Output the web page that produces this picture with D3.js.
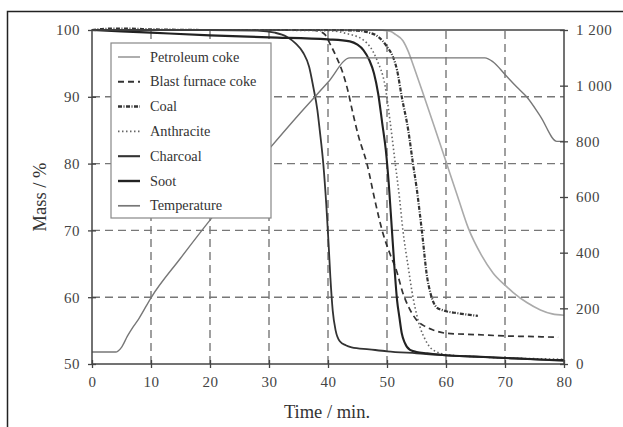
<!DOCTYPE html>
<html>
<head>
<meta charset="utf-8">
<script src="https://cdn.jsdelivr.net/npm/d3@7"></script>
<style>
  body { margin: 0; background: #fff; }
  svg { font-family: "Liberation Serif", "DejaVu Serif", serif; }
</style>
</head>
<body>
<div id="vis"></div>
<script>
// mass curves (time in min, mass in %)
const petrolT = [0, 20, 40, 48, 50.5, 51.5, 52.7, 53.6, 54.5, 56, 58, 60, 62, 63.8, 66, 68, 70, 71.4, 73.7, 76, 78, 80];
const petrolM = [100, 100, 100, 100, 99.8, 99.3, 98.4, 96.8, 94.6, 90.8, 85.6, 80.3, 75, 70.3, 66.3, 63.6, 61.8, 60.7, 59.2, 58.1, 57.5, 57.3];

const blastT = [0, 20, 37, 38.5, 39.5, 40.3, 41.4, 42.5, 43.4, 44.2, 45.2, 46.6, 48, 49.3, 50.5, 51.6, 52.7, 53.8, 55, 56.5, 57.8, 60, 65, 70, 75, 79];
const blastM = [100, 100, 100, 99.8, 99.3, 98, 96, 93.6, 90.8, 87.6, 84, 80, 74.3, 69.6, 66.5, 64, 60.6, 58.3, 56.6, 55.6, 55.1, 54.6, 54.4, 54.2, 54.1, 54.0];

const coalT = [0, 3, 6, 10, 20, 30, 40, 45, 47, 48.5, 50, 51, 51.7, 52.5, 53.6, 54.4, 55, 55.9, 56.8, 57.4, 58, 58.5, 59.3, 60, 62, 65.4];
const coalM = [100, 100.2, 100.2, 100.1, 100, 100, 100, 99.9, 99.6, 99, 97.5, 96, 94, 90, 85, 80, 76.5, 70, 63, 60.5, 59, 58.4, 58.1, 57.9, 57.6, 57.2];

const anthT = [0, 20, 40, 43, 46, 48.3, 49.7, 50.5, 51.4, 52.1, 52.7, 53.6, 54.4, 55, 55.6, 56.4, 57.3, 58.2, 59, 60, 65, 70, 75, 80];
const anthM = [100, 100, 99.9, 99.5, 98.5, 95.5, 91.5, 86.5, 80, 75, 70, 64.5, 60, 57.5, 55.5, 53.8, 52.5, 51.9, 51.6, 51.4, 51.1, 50.9, 50.8, 50.7];

const charT = [0, 10, 20, 28, 31, 33, 34.5, 35.8, 36.8, 37.5, 38.2, 38.6, 39.2, 39.7, 40.1, 40.4, 40.8, 41.3, 42, 43, 44, 47, 50, 55, 60, 65, 70, 75, 80];
const charM = [100, 100, 100, 99.9, 99.6, 99, 98, 96.6, 94.5, 91.5, 88, 85, 80, 74, 68, 63, 58, 55, 53.4, 52.8, 52.5, 52.2, 51.9, 51.6, 51.3, 51.1, 50.9, 50.7, 50.6];

const sootT = [0, 10, 20, 30, 40, 43.7, 45, 46, 47, 47.8, 48.5, 49.2, 49.8, 50.3, 50.8, 51.3, 51.7, 52.1, 52.5, 53, 53.9, 55, 56.8, 60, 65, 70, 75, 80];
const sootM = [100, 99.6, 99.2, 98.9, 98.6, 98.3, 97.8, 97, 95.5, 93.5, 90.5, 86, 82, 77, 70.5, 64, 59.6, 57, 54.6, 53.2, 52.1, 51.8, 51.6, 51.3, 51.1, 50.9, 50.7, 50.5];

// temperature (right axis, deg C)
const tempT = [0, 4, 5, 6, 7, 8, 10, 15, 20, 25, 30, 35.3, 40, 43.7, 66.6, 68, 70, 72, 73.7, 76, 78.8, 80];
const tempV = [43, 43, 60, 100, 134, 165, 238, 380, 517, 645, 772, 902, 1012, 1100, 1100, 1085, 1040, 995, 959, 890, 800, 800];

const xTicks = [0, 10, 20, 30, 40, 50, 60, 70, 80];
const yTicks = [50, 60, 70, 80, 90, 100];
const y2Ticks = [0, 200, 400, 600, 800, 1000, 1200];
const legendNames = ["Petroleum coke", "Blast furnace coke", "Coal", "Anthracite", "Charcoal", "Soot", "Temperature"];

const W = 623, H = 427;
const MARGINS = { left: 92, right: 59, top: 30, bottom: 63 };

const svg = d3.select("#vis").append("svg")
    .attr("width", W)
    .attr("height", H);

// outer frame of the figure
svg.append("rect")
    .attr("x", 7.5).attr("y", 11.5)
    .attr("width", W + 20).attr("height", H + 20)
    .attr("fill", "none").attr("stroke", "#222").attr("stroke-width", 1.5);

const X = d3.scaleLinear().domain([0, 80]).range([MARGINS.left, W - MARGINS.right]);
const Y = d3.scaleLinear().domain([50, 100]).range([H - MARGINS.bottom, MARGINS.top]);
const Y2 = d3.scaleLinear().domain([0, 1200]).range([H - MARGINS.bottom, MARGINS.top]);

// dashed grid
svg.append("g").selectAll("line")
    .data(xTicks.slice(1, -1))
    .enter().append("line")
    .attr("x1", d => X(d)).attr("x2", d => X(d))
    .attr("y1", Y(50)).attr("y2", Y(100))
    .attr("stroke", "#777").attr("stroke-width", 1.4)
    .attr("stroke-dasharray", "8,5");

svg.append("g").selectAll("line")
    .data(yTicks.slice(1, -1))
    .enter().append("line")
    .attr("x1", X(0)).attr("x2", X(80))
    .attr("y1", d => Y(d)).attr("y2", d => Y(d))
    .attr("stroke", "#777").attr("stroke-width", 1.4)
    .attr("stroke-dasharray", "8,5");

// series
const series = [
  { t: petrolT, v: petrolM, color: "#aaa", width: 1.6, dash: null, right: false },
  { t: blastT, v: blastM, color: "#333", width: 1.7, dash: "6,4", right: false },
  { t: coalT, v: coalM, color: "#333", width: 2.2, dash: "4,1.5,1,1.5", right: false },
  { t: anthT, v: anthM, color: "#666", width: 1.6, dash: "1.5,2.5", right: false },
  { t: charT, v: charM, color: "#333", width: 1.8, dash: null, right: false },
  { t: sootT, v: sootM, color: "#222", width: 2.1, dash: null, right: false },
  { t: tempT, v: tempV, color: "#777", width: 1.4, dash: null, right: true }
];

series.forEach(s => {
  const yS = s.right ? Y2 : Y;
  const line = d3.line()
      .x(i => X(s.t[i]))
      .y(i => yS(s.v[i]))
      .curve(d3.curveMonotoneX);
  svg.append("path")
      .attr("d", line(d3.range(s.t.length)))
      .attr("fill", "none")
      .attr("stroke", s.color)
      .attr("stroke-width", s.width)
      .attr("stroke-dasharray", s.dash);
});

// plot box
svg.append("rect")
    .attr("x", X(0)).attr("y", Y(100))
    .attr("width", X(80) - X(0)).attr("height", Y(50) - Y(100))
    .attr("fill", "none").attr("stroke", "#444").attr("stroke-width", 1.5);

// axes
function styleAxis(g, crossAttr) {
  g.select(".domain").remove();
  g.selectAll(".tick line").attr(crossAttr + "1", -4).attr(crossAttr + "2", 4)
      .attr("stroke", "#444").attr("stroke-width", 1.3);
  g.selectAll(".tick text")
      .attr("fill", "#444")
      .attr("font-size", "15px")
      .attr("letter-spacing", "0.5px")
      .attr("font-family", "Liberation Serif");
}

svg.append("g")
    .attr("transform", "translate(0," + Y(50) + ")")
    .call(d3.axisBottom(X).tickValues(xTicks).tickSize(4).tickPadding(8))
    .call(g => styleAxis(g, "y"));

svg.append("g")
    .attr("transform", "translate(" + X(0) + ",0)")
    .call(d3.axisLeft(Y).tickValues(yTicks).tickSize(4).tickPadding(8))
    .call(g => styleAxis(g, "x"));

svg.append("g")
    .attr("transform", "translate(" + X(80) + ",0)")
    .call(d3.axisRight(Y2).tickValues(y2Ticks).tickSize(4).tickPadding(8)
        .tickFormat(d => d >= 1000 ? d3.format(",")(d).replace(",", " ") : d))
    .call(g => styleAxis(g, "x"));

// axis titles
svg.append("text")
    .attr("x", (X(0) + X(80)) / 2 - 1).attr("y", 418)
    .attr("text-anchor", "middle")
    .attr("font-size", "18.5px").attr("fill", "#333")
    .text("Time / min.");

svg.append("text")
    .attr("transform", "translate(46," + 197 + ") rotate(-90)")
    .attr("text-anchor", "middle")
    .attr("font-size", "18.5px").attr("fill", "#333")
    .text("Mass / %");

// legend
const legend = svg.append("g").attr("transform", "translate(111,43)");
legend.append("rect")
    .attr("width", 160).attr("height", 175)
    .attr("fill", "#fff").attr("stroke", "#888").attr("stroke-width", 1.2);

legendNames.forEach((name, i) => {
  const s = series[i];
  const yy = 14 + i * 24.8;
  legend.append("line")
      .attr("x1", 7).attr("x2", 29)
      .attr("y1", yy).attr("y2", yy)
      .attr("stroke", s.color)
      .attr("stroke-width", s.width + 0.3)
      .attr("stroke-dasharray", s.dash);
  legend.append("text")
      .attr("x", 39).attr("y", yy + 4.5)
      .attr("font-size", "14.3px").attr("fill", "#333")
      .text(name);
});
</script>
</body>
</html>
